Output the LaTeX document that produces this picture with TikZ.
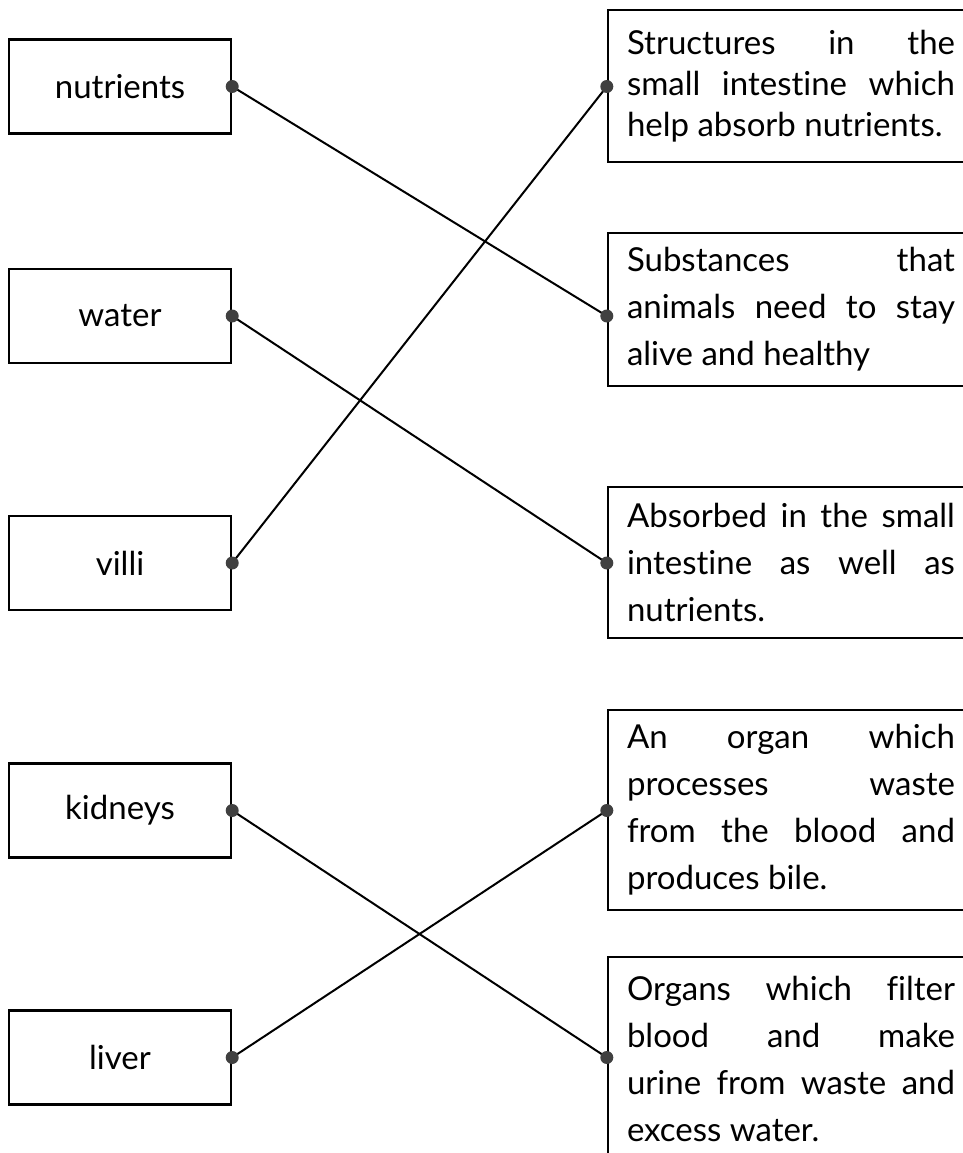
\documentclass[tikz,border=0pt]{standalone}
\usepackage{fontspec}
\setmainfont[Ligatures=NoCommon]{Lato}
\begin{document}
\begin{tikzpicture}[
                x=1pt, y=-1pt,
                wordbox/.style={
                    draw, line width=2.4pt, minimum width=222pt, minimum height=94pt,
                    font=\fontsize{33}{47}\selectfont
                },
                meaningbox/.style={
                    draw, line width=2.4pt, text width=328pt, inner xsep=19pt, inner ysep=4pt,
                    align=justify, font=\fontsize{33}{47}\selectfont
                },
                joindot/.style={
                    fill=black!75
                }
            ]
            \useasboundingbox (0, 0) rectangle (962, 1153);
            \node[wordbox] (N) at (120, 86.5) {nutrients};
            \node[wordbox] (W) at (120, 316) {water};
            \node[wordbox] (V) at (120, 563) {villi};
            \node[wordbox] (K) at (120, 810.5) {kidneys};
            \node[wordbox] (L) at (120, 1057.5) {liver};
            \node[meaningbox, minimum height=152pt, font=\fontsize{33}{41}\selectfont] (DV) at (791, 86) {Structures in the\linebreak small intestine which\linebreak help absorb nutrients.};
            \node[meaningbox, minimum height=153pt] (DN) at (791, 309.5) {Substances that\linebreak animals need to stay\linebreak alive and healthy};
            \node[meaningbox, minimum height=151pt] (DW) at (791, 562.5) {Absorbed in the small\linebreak intestine as well as\linebreak nutrients.};
            \node[meaningbox, minimum height=200pt] (DL) at (791, 810) {An organ which\linebreak processes waste\linebreak from the blood and\linebreak produces bile.};
            \node[meaningbox, minimum height=203pt] (DK) at (791, 1058.5) {Organs which filter\linebreak blood and make\linebreak urine from waste and\linebreak excess water.};
            \coordinate (dV) at (DV.west |- N.east);
            \coordinate (dN) at (DN.west |- W.east);
            \coordinate (dW) at (DW.west |- V.east);
            \coordinate (dL) at (DL.west |- K.east);
            \coordinate (dK) at (DK.west |- L.east);

            % lines
            \draw[line width=2pt] (N.east) -- (dN);
            \draw[line width=2pt] (W.east) -- (dW);
            \draw[line width=2pt] (V.east) -- (dV);
            \draw[line width=2pt] (K.east) -- (dK);
            \draw[line width=2pt] (L.east) -- (dL);
            % dots
            \fill[joindot] (N.east) circle (6.5pt) (dN) circle (6.5pt);
            \fill[joindot] (W.east) circle (6.5pt) (dW) circle (6.5pt);
            \fill[joindot] (V.east) circle (6.5pt) (dV) circle (6.5pt);
            \fill[joindot] (K.east) circle (6.5pt) (dK) circle (6.5pt);
            \fill[joindot] (L.east) circle (6.5pt) (dL) circle (6.5pt);
            \end{tikzpicture}
\end{document}
